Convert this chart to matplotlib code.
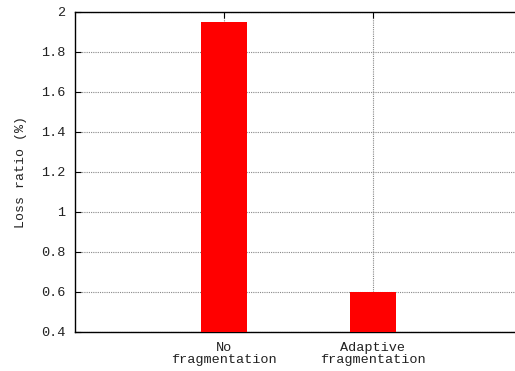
import matplotlib
matplotlib.use("Agg")
import matplotlib.pyplot as plt

# data
categories = ["No\nfragmentation", "Adaptive\nfragmentation"]
positions = [1, 2]
loss_ratio = [1.95, 0.60]
y_ticks = [0.4, 0.6, 0.8, 1.0, 1.2, 1.4, 1.6, 1.8, 2.0]
y_labels = ["0.4", "0.6", "0.8", "1", "1.2", "1.4", "1.6", "1.8", "2"]
base = 0.4

plt.rcParams['font.family'] = ['Liberation Mono', 'DejaVu Sans Mono']

fig = plt.figure(figsize=(5.15, 3.71), dpi=100)
# axes runs past the right edge like the original plot
ax = fig.add_axes([75 / 515, 39 / 371, 447 / 515, 320 / 371])

ax.bar(positions, [v - base for v in loss_ratio], width=0.31, bottom=base,
       color='#ff0000', zorder=3)

ax.set_xlim(0, 3)
ax.set_ylim(base, 2.0)
ax.set_xticks(positions)
ax.set_xticklabels(categories, fontsize=9.7, color='#222222', linespacing=1.0)
ax.set_yticks(y_ticks)
ax.set_yticklabels(y_labels, fontsize=9.7, color='#222222')
ax.set_ylabel("Loss ratio (%)", fontsize=9.5, color='#222222', labelpad=10)

ax.grid(True, linestyle=(0, (1, 1)), color='#888888', linewidth=0.8, zorder=1)
ax.tick_params(direction='in', length=4, width=0.8, pad=7, top=True)
ax.tick_params(axis='x', pad=7)

for side in ['left', 'top', 'bottom']:
    ax.spines[side].set_linewidth(1.0)
ax.spines['right'].set_visible(False)

fig.savefig("out.png", dpi=100)
